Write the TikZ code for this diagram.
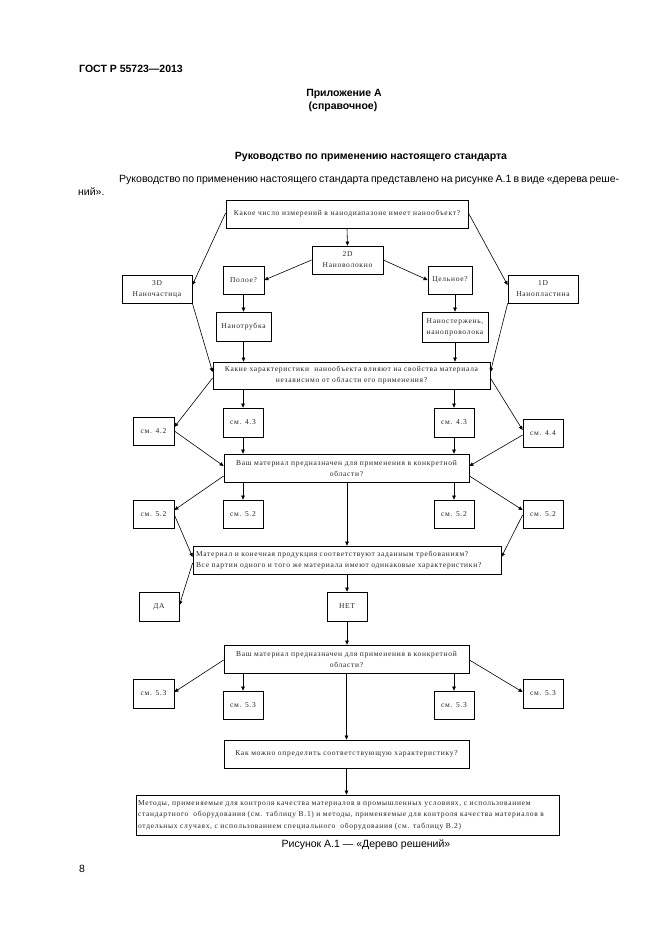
\documentclass[tikz,border=0pt]{standalone}
\usepackage{fontspec}
\setmainfont{Liberation Sans}
\newfontfamily\boxfont[LetterSpace=9.5]{Liberation Serif}
\newfontfamily\hdfont{Liberation Sans}
\usetikzlibrary{arrows.meta,calc}
\tikzset{
  box/.style={draw, line width=0.8pt, inner sep=0pt, align=center, text=black!85,
    font=\boxfont\fontsize{7.5}{11}\selectfont},
  lbox/.style={box, align=left, font=\boxfont\fontsize{7.5}{11.5}\selectfont},
  conn/.style={-{Triangle[length=4pt,width=3.6pt]}, line width=0.6pt},
  hd/.style={inner sep=0pt, font=\hdfont\fontsize{10.5}{13}\selectfont},
  hdb/.style={inner sep=0pt, font=\hdfont\bfseries\fontsize{10.5}{13}\selectfont}
}
\newcommand{\mybox}[7][box]{%
  \node[#1, minimum width={(#5-#3)*1pt}, minimum height={(#6-#4)*1pt}] (#2)
    at ({(#3+#5)/2},{(#4+#6)/2}) {#7};}
\begin{document}
\begin{tikzpicture}[x=1pt,y=-1pt]
\fill[white] (0,0) rectangle (661,935);
\useasboundingbox (0,0) rectangle (661,935);
% header texts
\node[hdb, anchor=mid west] (gost) at (79,70) {ГОСТ Р 55723—2013};
\node[hdb] (app) at (344,94) {Приложение А};
\node[hdb] (ref) at (343,107) {(справочное)};
\node[hdb] (title) at (371,157) {Руководство по применению настоящего стандарта};
\node[hd, anchor=mid west] (par1) at (119,180) {\makebox[500pt][s]{Руководство по применению настоящего стандарта представлено на рисунке А.1 в виде «дерева реше-}};
\node[hd, anchor=mid west] (par2) at (78,193) {ний».};
% boxes
\mybox{q1}{226}{200}{468}{228}{Какое число измерений в нанодиапазоне имеет нанообъект?}
\mybox{d2}{312}{246}{383}{274}{2D\\Нановолокно}
\mybox{pol}{223}{266}{264}{294}{Полое?}
\mybox{cel}{428}{266}{472}{294}{Цельное?}
\mybox{d3}{122}{275}{192}{303}{3D\\Наночастица}
\mybox{d1}{508}{275}{578}{303}{1D\\Нанопластина}
\mybox{ntr}{216}{312}{271}{341}{Нанотрубка}
\mybox{ns}{422}{312}{488}{342}{Наностержень,\\нанопроволока}
\mybox{q2}{213}{362}{490}{389}{Какие характеристики\ \ нанообъекта влияют на свойства материала\\независимо от области его применения?}
\mybox{c43a}{223}{408}{263}{437}{см. 4.3}
\mybox{c43b}{434}{408}{474}{437}{см. 4.3}
\mybox{c42}{133}{417}{174}{445}{см. 4.2}
\mybox{c44}{523}{419}{563}{447}{см. 4.4}
\mybox{q3}{224}{454}{469}{482}{Ваш материал предназначен для применения в конкретной\\области?}
\mybox{c52a}{133}{500}{174}{528}{см. 5.2}
\mybox{c52b}{223}{500}{263}{528}{см. 5.2}
\mybox{c52c}{434}{500}{474}{528}{см. 5.2}
\mybox{c52d}{523}{500}{563}{528}{см. 5.2}
\mybox[lbox, text width=302pt]{q4}{193}{546}{501}{574}{Материал и конечная продукция соответствуют заданным требованиям?\\Все партии одного и того же материала имеют одинаковые характеристики?}
\mybox{yes}{139}{592}{179}{621}{ДА}
\mybox{no}{327}{592}{367}{621}{НЕТ}
\mybox{q5}{224}{645}{469}{673}{Ваш материал предназначен для применения в конкретной\\области?}
\mybox{c53a}{133}{679}{174}{708}{см. 5.3}
\mybox{c53b}{223}{691}{263}{719}{см. 5.3}
\mybox{c53c}{434}{691}{474}{719}{см. 5.3}
\mybox{c53d}{523}{679}{563}{708}{см. 5.3}
\mybox{q6}{224}{740}{469}{768}{Как можно определить соответствующую характеристику?}
\mybox[lbox, text width=419pt]{q7}{136}{795}{559}{835}{Методы, применяемые для контроля качества материалов в промышленных условиях, с использованием\\стандартного\ \ оборудования (см. таблицу В.1) и методы, применяемые для контроля качества материалов в\\отдельных случаях, с использованием специального\ \ оборудования (см. таблицу В.2)}
% caption and page number
\node[hd] (cap) at (366,845) {Рисунок А.1 — «Дерево решений»};
\node[hd, anchor=mid west] (pg) at (79,870) {8};
% connectors
\draw[conn] (q1.south) -- (d2.north);
\draw[conn] ([yshift=1pt]q1.west) -- ([yshift=4pt]d3.east);
\draw[conn] ([yshift=1pt]q1.east) -- ([yshift=4pt]d1.west);
\draw[conn] (d2.west) -- (pol.east);
\draw[conn] (d2.east) -- (cel.west);
\draw[conn] (pol.south) -- (ntr.north);
\draw[conn] (cel.south -| ns.north) -- (ns.north);
\draw[conn] (d3.south east) -- ([yshift=3.5pt]q2.west);
\draw[conn] (d1.south west) -- ([yshift=3.5pt]q2.east);
\draw[conn] (ntr.south) -- (ntr.south |- q2.north);
\draw[conn] (ns.south) -- (ns.south |- q2.north);
\draw[conn] (c43a.north |- q2.south) -- (c43a.north);
\draw[conn] (c43b.north |- q2.south) -- (c43b.north);
\draw[conn] ([yshift=-2.5pt]q2.west) -- ([yshift=4pt]c42.east);
\draw[conn] ([yshift=-2.5pt]q2.east) -- ([yshift=3pt]c44.west);
\draw[conn] (c42.east) -- ([yshift=2pt]q3.west);
\draw[conn] ([yshift=-2pt]c44.west) -- ([yshift=2pt]q3.east);
\draw[conn] (c43a.south) -- (c43a.south |- q3.north);
\draw[conn] (c43b.south) -- (c43b.south |- q3.north);
\draw[conn] (c52b.north |- q3.south) -- (c52b.north);
\draw[conn] (c52c.north |- q3.south) -- (c52c.north);
\draw[conn] (q4.north |- q3.south) -- (q4.north);
\draw[conn] ([yshift=-8pt]q3.west) -- ([yshift=4pt]c52a.east);
\draw[conn] ([yshift=-8pt]q3.east) -- ([yshift=4pt]c52d.west);
\draw[conn] ([yshift=-1pt]c52a.east) -- ([yshift=3pt]q4.west);
\draw[conn] ([yshift=-1pt]c52d.west) -- ([yshift=3pt]q4.east);
\draw[conn] ([yshift=-3pt]q4.west) -- ([yshift=1.5pt]yes.east);
\draw[conn] (q4.south) -- (no.north);
\draw[conn] (no.south) -- (no.south |- q5.north);
\draw[conn] ([yshift=-1pt]q5.west) -- ([yshift=1.5pt]c53a.east);
\draw[conn] ([yshift=-1pt]q5.east) -- ([yshift=1.5pt]c53d.west);
\draw[conn] (c53b.north |- q5.south) -- (c53b.north);
\draw[conn] (c53c.north |- q5.south) -- (c53c.north);
\draw[conn] (q6.north |- q5.south) -- (q6.north);
\draw[conn] (q6.south) -- (q6.south |- q7.north);
\end{tikzpicture}
\end{document}
